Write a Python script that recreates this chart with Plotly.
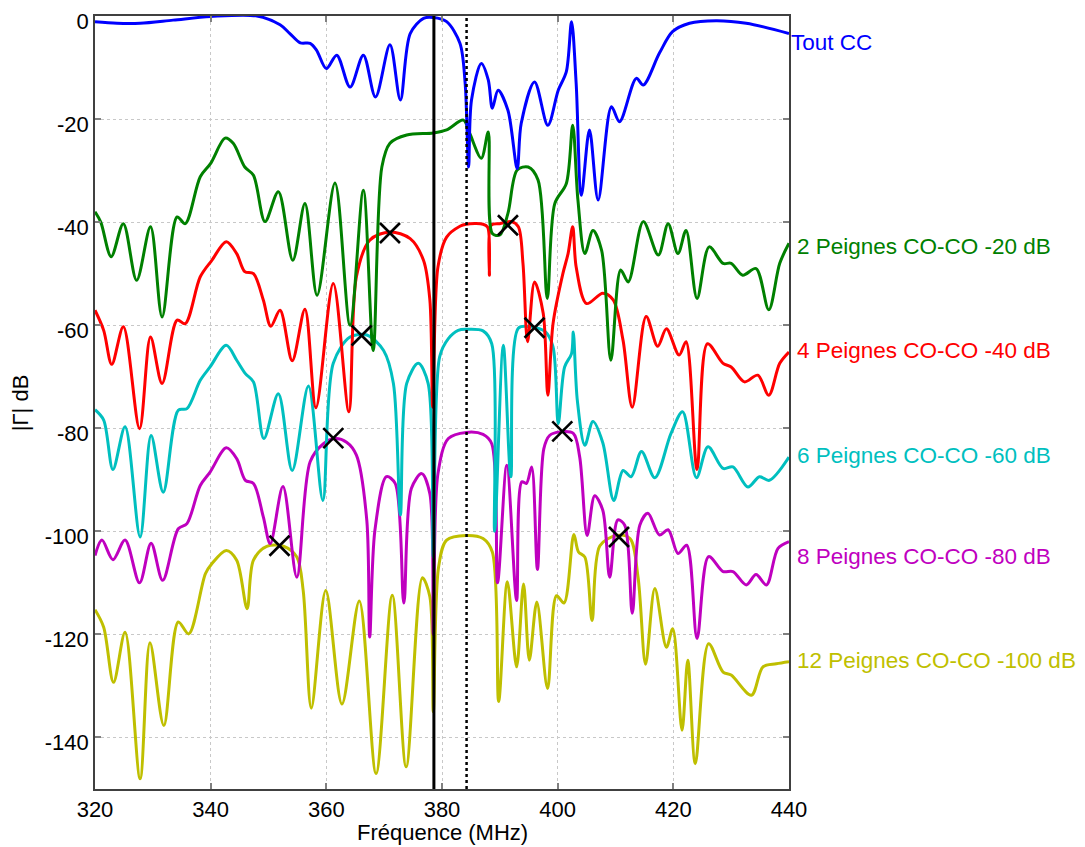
import plotly.graph_objects as go

# ---------------- data ----------------
f_cc = [320, 323.8, 327.8, 333.5, 340, 348, 352, 353.7, 355.5, 357.2, 358.3, 360, 361.8, 364.1, 366.4,
        368.5, 371, 372.8, 374.5, 376.8, 378.5, 380.8, 383.1, 384, 384.6, 385.1, 386.8, 388, 388.7, 389.7,
        391.4, 393, 393.7, 396, 398.3, 400.1, 401.5, 402.4, 403.2, 404.1, 405.5, 407, 409.3, 410.7, 413.6,
        414.8, 417.6, 419.9, 422.8, 427.4, 432.6, 440]
db_cc = [-1.1, -1.4, -1.4, -0.8, -0.1, 0, -1.7, -3.4, -5.2, -5.3, -6.6, -10.2, -7.6, -13.8, -7.6,
         -15.7, -5.6, -16.3, -3.4, -0.45, -0.3, -1.1, -5.3, -13, -29.3, -16.3, -9.2, -12.4, -17.9, -14.4,
         -18.3, -29.6, -20.8, -12.8, -21.2, -14.4, -10.8, -1.1, -13.1, -34.8, -22.1, -35.7, -17.6, -20.5, -12.1,
         -13.4, -7.2, -3, -1.4, -0.9, -1.4, -3.4]

f_p2 = [320, 321, 322.8, 324.9, 327.2, 329.6, 331.6, 334.2, 335.6, 338.2, 340, 342.5, 343.9, 345.9, 347.4,
        349.4, 351.7, 354.2, 356.3, 358.4, 361.5, 364.1, 366.4, 368.1, 369.6, 371, 373.9, 378.5, 380.8, 383.7,
        384.8, 386.8, 388, 388.7, 390, 391.4, 393, 394.9, 396.6, 398.2, 399.5, 401.5, 402.6, 403.5, 404.7,
        406.1, 407.6, 409.2, 410.9, 412.2, 414.8, 417.4, 419.1, 420.8, 422.2, 424.1, 426.2, 428.6, 430, 432,
        434.3, 436.5, 438.4, 440]
db_p2 = [-38, -40, -46.7, -40.3, -51.3, -40.9, -58.4, -39, -40.3, -31.2, -28.6, -23.7, -24.7, -29.3, -30.9,
         -39.9, -34.1, -47.4, -36.4, -54.2, -32.4, -60, -33.8, -64.9, -29.3, -24.7, -23.1, -22.7, -22.1, -20.2,
         -22.8, -27.6, -22.5, -42.2, -42.5, -38.3, -29.9, -29.3, -31.8, -54.8, -36.4, -32.5, -21.2, -35.7, -46.1,
         -41.6, -45.5, -66.8, -49.3, -51.6, -39.9, -46.4, -40.3, -46.1, -41.6, -54.8, -44.8, -48, -48, -50.3,
         -49, -57, -48, -44.1]

f_p4 = [320, 321.5, 322.9, 324.9, 327.7, 329.6, 331.6, 334.2, 335.6, 338.2, 340.2, 342.7, 344.5, 345.9, 347.4,
        349.1, 350.4, 352, 354.1, 356.3, 358.2, 361.2, 363.9, 365.2, 367.5, 371, 374.5, 376.8, 377.9, 378.4,
        379.3, 380.8, 383.1, 384.2, 387.1, 387.9, 388.2, 388.5, 390, 392, 393.2, 394, 394.8, 396, 397.5,
        398.3, 399.2, 400.9, 401.8, 402.6, 403.2, 405, 407.8, 409.6, 411.3, 412.9, 415.3, 417.3, 418.8, 421,
        422.2, 424.1, 425.9, 428.6, 430, 432.3, 434.6, 436.5, 438.4, 440]
db_p4 = [-57.1, -61, -67.6, -60.3, -80.1, -62.3, -71.3, -59, -59.7, -50.6, -47.4, -43.8, -46.1, -49.6, -50,
         -55.1, -60.2, -57.1, -66.9, -56.9, -76, -51.9, -76.8, -50.6, -43.5, -41.9, -43.2, -47.4, -55.1, -75.9,
         -48.7, -42.9, -40.8, -40.4, -40.4, -41, -50.3, -40.6, -40.3, -39.9, -40.9, -48, -63.2, -51.6, -57.7,
         -73.6, -59.7, -50, -46.1, -40.9, -48.7, -55.8, -53.8, -55.1, -62.9, -75.9, -58.3, -64.1, -60.7, -65.8,
         -63.2, -88, -63.6, -67.4, -68.1, -71, -69.7, -73.6, -67.4, -65.2]

f_p6 = [320, 321.5, 323.1, 325.2, 327.8, 329.7, 331.8, 334.4, 335.9, 338.2, 339.9, 342.7, 344.5, 346, 347.4,
        349.2, 351.7, 354.1, 356.9, 359.4, 361.2, 364.1, 367, 369.9, 371.6, 372.8, 373.9, 375.9, 377.6, 378.5,
        379.6, 381.1, 382.8, 384.2, 387.1, 388.6, 389.1, 390.6, 391.9, 393.2, 395.2, 397.9, 399.2, 400.1, 401.2,
        402.4, 402.7, 403.4, 404.7, 406.1, 407.8, 409.7, 411.3, 412.7, 414.5, 416.8, 419.6, 421.6, 424, 426,
        428.6, 430.3, 432.9, 434.9, 436.6, 440]
db_p6 = [-76.4, -78.4, -88, -79.7, -101.1, -81.4, -92.4, -76.5, -76.2, -70.7, -68.1, -63.9, -66.8, -69.4, -71,
         -82, -73.3, -88.2, -71.8, -94, -67.4, -62.3, -61.9, -64.9, -71.3, -96.8, -71.3, -67.4, -71.3, -105,
         -66.1, -62.6, -61, -60.8, -61.1, -63.6, -100, -63.9, -89.4, -60.6, -60.3, -61.3, -64.2, -79.1, -68.1,
         -65.5, -61.3, -74.6, -83.3, -78.7, -82.8, -94, -88.2, -89.4, -84.5, -89.6, -81, -76.8, -89.6, -83.6,
         -87.8, -87.5, -91.4, -89.4, -90.1, -85.6]

f_p8 = [320, 321.2, 323.1, 325.2, 327.7, 329.7, 331.7, 334.4, 335.9, 338.2, 339.9, 342.7, 344.5, 346, 347.4,
        349.1, 350.3, 352.5, 354.9, 357.2, 359.5, 361.5, 363.5, 365.2, 367, 367.5, 368.4, 370.4, 371.9, 373.4,
        374.7, 376.5, 377.9, 378.5, 379.3, 381.1, 384.2, 387.1, 388.6, 389.6, 391.2, 392.9, 393.8, 394.6, 395.5,
        396.5, 397.6, 398.6, 400.4, 402.7, 403.8, 405.1, 406.4, 407.8, 409, 410.4, 411.6, 412.9, 414.2, 415.6,
        417.6, 419.1, 420.8, 422.3, 424.1, 426.1, 428.6, 430.3, 432.6, 434.3, 436.1, 438.1, 440]
db_p8 = [-104.7, -101.7, -105.5, -101.7, -110, -102.3, -109.5, -99.5, -98.5, -91.1, -88.5, -83.8, -85.9, -90.1, -90.7,
         -97.2, -102.4, -91.3, -108.9, -86.5, -83, -82, -82.7, -85.2, -97.9, -120.5, -99.8, -89.4, -90.7, -113.9,
         -91.7, -88.8, -92.7, -120, -88.8, -82, -80.8, -81.2, -83, -110, -87.2, -113.4, -90.4, -90.7, -87.5,
         -107.4, -84, -81.4, -80.7, -81, -85.5, -100.8, -93.1, -95.9, -108.9, -97.8, -98.8, -115.9, -98.8, -96.5,
         -100.7, -99.7, -104.3, -102.7, -120.8, -104.9, -107.8, -107.8, -110.4, -108.4, -110.4, -103.3, -102]

f_p12 = [320, 321.5, 323.2, 325.2, 327.8, 329.5, 331.9, 334.4, 336.2, 339.1, 340.2, 342.7, 344.5, 346.3, 347.4,
         349.7, 352.6, 354.9, 356, 357.4, 359.9, 362.7, 365.7, 368.6, 371.4, 373.8, 376.6, 377.9, 378.5, 379.4,
         380.8, 384.2, 387.1, 388.7, 389.8, 391.3, 392.9, 394.1, 395.1, 396.4, 398.25, 399.8, 401.1, 402.8, 403.6,
         404.7, 405.95, 407.3, 410.2, 412.5, 413.9, 415.2, 416.8, 418.8, 419.9, 421.5, 422.5, 423.8, 426.1, 428.6,
         430, 433.5, 435.5, 437.8, 440]
db_p12 = [-115.2, -118.6, -129.3, -119.6, -148, -121.6, -137.7, -117.6, -119.9, -108.2, -106.3, -103.7, -105.6, -115, -105.6,
          -102.9, -102.9, -105, -111.5, -134.3, -111.5, -133.5, -113.5, -147, -112.4, -145.7, -109, -112.7, -135, -107,
          -101.7, -100.8, -101.4, -104, -133, -109.8, -126.3, -110.2, -125, -113.7, -130.5, -112.5, -113.9, -100.6, -104,
          -105, -117.3, -102.8, -100.8, -101.4, -108.9, -125.8, -111.1, -122.5, -118.9, -138.6, -125, -145.1, -121.8, -127.3,
          -127.9, -131.8, -126.3, -125.7, -125.3]

# cross markers
mk_f = [371, 391.4, 366.1, 396, 361.2, 400.8, 351.9, 410.6]
mk_db = [-42.1, -40.6, -62, -60.5, -81.9, -80.6, -102.8, -101.1]

# vertical reference lines (MHz)
vl_solid = 378.6
vl_dot = 384.25

series_names = ["Tout CC", "2 Peignes CO-CO -20 dB", "4 Peignes CO-CO -40 dB",
                "6 Peignes CO-CO -60 dB", "8 Peignes CO-CO -80 dB", "12 Peignes CO-CO -100 dB"]
label_db = [-5.2, -44.7, -65.0, -85.2, -104.9, -125.0]

x_ticks = [320, 340, 360, 380, 400, 420, 440]
y_ticks = [0, -20, -40, -60, -80, -100, -120, -140]

# ---------------- styling ----------------
colors = ["#0000FF", "#008000", "#FF0000", "#00BFBF", "#BF00BF", "#BFBF00"]
FONT = "Liberation Sans, Arial, Helvetica, sans-serif"
FS = 22

xs = [f_cc, f_p2, f_p4, f_p6, f_p8, f_p12]
ys = [db_cc, db_p2, db_p4, db_p6, db_p8, db_p12]

fig = go.Figure()
for i in reversed(range(6)):
    fig.add_trace(go.Scatter(x=xs[i], y=ys[i], mode="lines", name=series_names[i],
                             line=dict(color=colors[i], width=3, shape="spline", smoothing=0.9),
                             showlegend=False, hoverinfo="skip"))

fig.add_trace(go.Scatter(x=[vl_solid, vl_solid], y=[-150, 0], mode="lines",
                         line=dict(color="black", width=3), showlegend=False, hoverinfo="skip"))
fig.add_trace(go.Scatter(x=[vl_dot, vl_dot], y=[-150, 0], mode="lines",
                         line=dict(color="black", width=2.5, dash="dot"), showlegend=False, hoverinfo="skip"))

fig.add_trace(go.Scatter(x=mk_f, y=mk_db, mode="markers",
                         marker=dict(symbol="x-thin", size=20, line=dict(color="black", width=2.6)),
                         showlegend=False, hoverinfo="skip"))

for i in range(6):
    fig.add_annotation(x=440, y=label_db[i], xref="x", yref="y", text=series_names[i],
                       showarrow=False, xanchor="left", yanchor="middle",
                       xshift=0 if i == 0 else 5.5,
                       font=dict(family=FONT, size=22.5, color=colors[i]))

# axis titles as annotations (placed relative to the plot area)
fig.add_annotation(x=0.5, y=-0.056, xref="paper", yref="paper", text="Fréquence (MHz)",
                   showarrow=False, xanchor="center", yanchor="middle",
                   font=dict(family=FONT, size=FS, color="black"))
fig.add_annotation(x=-0.107, y=0.5, xref="paper", yref="paper", text="|Γ| dB", textangle=-90,
                   showarrow=False, xanchor="center", yanchor="middle",
                   font=dict(family=FONT, size=FS, color="black"))

axis_common = dict(showgrid=True, gridcolor="#c8c8c8", griddash="dot", gridwidth=1,
                   showline=True, linecolor="#404040", linewidth=1.5, mirror="ticks",
                   ticks="inside", ticklen=6, tickcolor="#808080", tickwidth=1.5,
                   zeroline=False, automargin=False, ticklabeloverflow="allow",
                   tickfont=dict(family=FONT, size=FS, color="black"))

fig.update_xaxes(range=[320, 440], tickvals=x_ticks, ticktext=[str(v) for v in x_ticks], **axis_common)
fig.update_yaxes(range=[-150, 0], tickvals=y_ticks, ticktext=[str(v) for v in y_ticks],
                 ticklabelshift=5, **axis_common)

# page body has an 8px default margin: size/margins compensate so the plot area sits at 95..789 x 16..789
fig.update_layout(width=1077, height=839, margin=dict(l=87, r=296, t=8, b=58, autoexpand=False),
                  paper_bgcolor="white", plot_bgcolor="white",
                  font=dict(family=FONT, size=FS, color="black"))

fig.write_html("out.html")
